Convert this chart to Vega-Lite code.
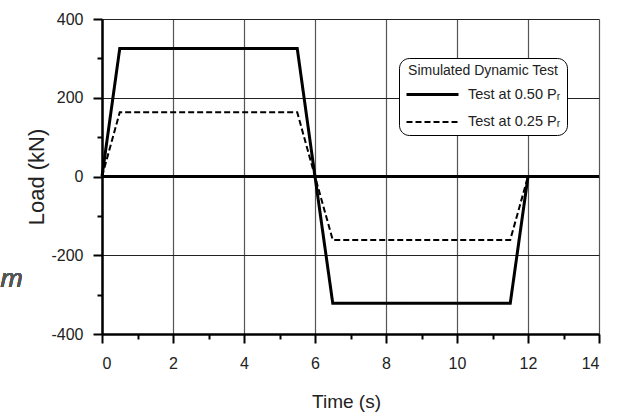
{
  "$schema": "https://vega.github.io/schema/vega-lite/v6.json",
  "autosize": "none",
  "width": 497,
  "height": 315,
  "padding": {"left": 102, "top": 19, "right": 21, "bottom": 82},
  "background": "white",
  "config": {
    "font": "Liberation Sans",
    "view": {"stroke": null}
  },
  "data": {
    "values": [
      {"t": 0, "load": 0, "s": "Test at 0.50 Pᵣ"},
      {"t": 0.5, "load": 325, "s": "Test at 0.50 Pᵣ"},
      {"t": 5.5, "load": 325, "s": "Test at 0.50 Pᵣ"},
      {"t": 6, "load": 0, "s": "Test at 0.50 Pᵣ"},
      {"t": 6.5, "load": -322, "s": "Test at 0.50 Pᵣ"},
      {"t": 11.5, "load": -322, "s": "Test at 0.50 Pᵣ"},
      {"t": 12, "load": 0, "s": "Test at 0.50 Pᵣ"},
      {"t": 0, "load": 0, "s": "Test at 0.25 Pᵣ"},
      {"t": 0.5, "load": 163, "s": "Test at 0.25 Pᵣ"},
      {"t": 5.5, "load": 163, "s": "Test at 0.25 Pᵣ"},
      {"t": 6, "load": 0, "s": "Test at 0.25 Pᵣ"},
      {"t": 6.5, "load": -161, "s": "Test at 0.25 Pᵣ"},
      {"t": 11.5, "load": -161, "s": "Test at 0.25 Pᵣ"},
      {"t": 12, "load": 0, "s": "Test at 0.25 Pᵣ"}
    ]
  },
  "layer": [
    {
      "mark": {"type": "point", "opacity": 0},
      "encoding": {
        "x": {"field": "t", "type": "quantitative", "scale": {"domain": [0, 14], "nice": false, "zero": false},
          "axis": {"orient": "bottom", "values": [1, 3, 5, 7, 9, 11, 13], "labels": false, "grid": false, "domain": false, "title": null, "tickSize": 5, "tickWidth": 2, "tickColor": "black"}},
        "y": {"field": "load", "type": "quantitative", "scale": {"domain": [-400, 400], "nice": false, "zero": false},
          "axis": {"orient": "left", "values": [-300, -100, 100, 300], "labels": false, "grid": false, "domain": false, "title": null, "tickSize": 5, "tickWidth": 2, "tickColor": "black"}}
      }
    },
    {
      "mark": {"type": "rule", "color": "black", "strokeWidth": 2.5},
      "encoding": {"y": {"datum": 0, "type": "quantitative", "axis": null}}
    },
    {
      "mark": {"type": "line", "color": "black", "clip": false},
      "encoding": {
        "x": {"field": "t", "type": "quantitative",
          "axis": {"orient": "bottom", "values": [0, 2, 4, 6, 8, 10, 12, 14], "grid": true, "gridColor": "#555", "gridWidth": 1.2,
            "domainColor": "black", "domainWidth": 2.5, "tickColor": "black", "tickWidth": 2, "tickSize": 9,
            "labelFontSize": 16, "labelColor": "#222", "labelPadding": 12,
            "title": "Time (s)", "titleFontSize": 19, "titleFontWeight": "normal", "titleColor": "#222", "titlePadding": 21,
            "titleX": 244, "labelExpr": "'' + datum.value"}},
        "y": {"field": "load", "type": "quantitative",
          "axis": {"orient": "left", "values": [-400, -200, 0, 200, 400], "grid": true, "gridColor": "#222", "gridWidth": 1.2,
            "domainColor": "black", "domainWidth": 2.5, "tickColor": "black", "tickWidth": 2, "tickSize": 9,
            "labelFontSize": 16, "labelColor": "#222", "labelPadding": 10,
            "title": "Load (kN)", "titleFontSize": 22, "titleFontWeight": "normal", "titleColor": "#222", "titlePadding": 2,
            "labelExpr": "'' + datum.value"}},
        "detail": {"field": "s"},
        "strokeDash": {"field": "s", "type": "nominal",
          "scale": {"domain": ["Test at 0.50 Pᵣ", "Test at 0.25 Pᵣ"], "range": [[1, 0], [6, 3]]},
          "legend": {"orient": "none", "legendX": 297, "legendY": 39, "title": "Simulated Dynamic Test",
            "titleFontSize": 14, "titleFontWeight": "normal", "titleColor": "#222", "titleAnchor": "middle", "titlePadding": 2,
            "labelFontSize": 14.5, "labelColor": "#222", "symbolType": "M-1,0H3", "symbolSize": 676, "symbolStrokeWidth": 3,
            "symbolStrokeColor": "black", "strokeColor": "black", "fillColor": "white", "cornerRadius": 10, "padding": 6,
            "rowPadding": 7, "labelOffset": 34}},
        "strokeWidth": {"field": "s", "type": "nominal",
          "scale": {"domain": ["Test at 0.50 Pᵣ", "Test at 0.25 Pᵣ"], "range": [3, 2]}, "legend": null}
      }
    },
    {
      "mark": {"type": "text", "text": "m", "fontStyle": "italic", "fontSize": 26, "color": "#555", "font": "Open Sans", "clip": false, "align": "center", "baseline": "alphabetic"},
      "encoding": {"x": {"datum": -2.55, "type": "quantitative", "axis": null}, "y": {"datum": -280, "type": "quantitative", "axis": null}}
    }
  ],
  "resolve": {"axis": {"x": "independent", "y": "independent"}}
}
